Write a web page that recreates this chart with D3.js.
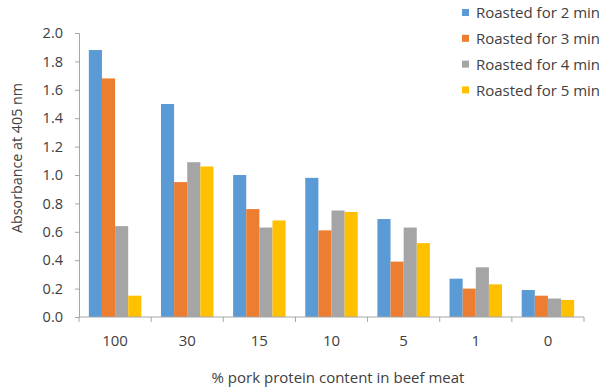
<!DOCTYPE html>
<html>
<head>
<meta charset="utf-8">
<script src="https://cdn.jsdelivr.net/npm/d3@7"></script>
<style>
  html, body { margin: 0; padding: 0; background: #fff; }
  svg { display: block; }
  text { font-family: "Open Sans", "DejaVu Sans", sans-serif; fill: #404040; }
</style>
</head>
<body>
<svg id="chart" width="599" height="389"></svg>
<script>
// Pork protein content categories (% in beef meat)
const categories = ["100", "30", "15", "10", "5", "1", "0"];
// Roasting-time series
const seriesNames = ["Roasted for 2 min", "Roasted for 3 min", "Roasted for 4 min", "Roasted for 5 min"];
const roasted2 = [1.88, 1.50, 1.00, 0.98, 0.69, 0.27, 0.19];
const roasted3 = [1.68, 0.95, 0.76, 0.61, 0.39, 0.20, 0.15];
const roasted4 = [0.64, 1.09, 0.63, 0.75, 0.63, 0.35, 0.13];
const roasted5 = [0.15, 1.06, 0.68, 0.74, 0.52, 0.23, 0.12];
const colors = ["#5B9BD5", "#ED7D31", "#A5A5A5", "#FFC000"];
const yTicks = [0, 0.2, 0.4, 0.6, 0.8, 1.0, 1.2, 1.4, 1.6, 1.8, 2.0];

const seriesValues = [roasted2, roasted3, roasted4, roasted5];
const rows = categories.map((c, i) => ({ cat: c, vals: seriesValues.map(s => s[i]) }));

const svg = d3.select("#chart");
const margin = { left: 79, right: 15, top: 33, bottom: 72 };
const W = 599, H = 389;

const x = d3.scaleBand().domain(categories).range([margin.left, W - margin.right]).paddingInner(0).paddingOuter(0);
const x1 = d3.scaleBand().domain(d3.range(seriesNames.length)).range([0, x.bandwidth()]).paddingInner(0).paddingOuter(0.75);
const y = d3.scaleLinear().domain([0, 2.0]).range([H - margin.bottom, margin.top]);

// Bars
const groups = svg.append("g").selectAll("g").data(rows).join("g")
  .attr("transform", d => `translate(${x(d.cat)},0)`);
groups.selectAll("rect").data(d => d.vals.map((v, k) => ({ v, k }))).join("rect")
  .attr("x", d => x1(d.k))
  .attr("width", x1.bandwidth())
  .attr("y", d => y(d.v))
  .attr("height", d => y(0) - y(d.v))
  .attr("fill", d => colors[d.k]);

// Y axis
const yAxis = svg.append("g").attr("transform", `translate(${margin.left},0)`)
  .call(d3.axisLeft(y).tickValues(yTicks).tickFormat(d3.format(".1f")).tickSize(4).tickPadding(12));
yAxis.select(".domain").attr("stroke", "#a6a6a6");
yAxis.selectAll(".tick line").attr("stroke", "#a6a6a6");
yAxis.selectAll("text").attr("font-size", 14.5).attr("fill", "#404040")
  .style("font-family", "'Open Sans', 'DejaVu Sans', sans-serif");

// X axis with boundary ticks between categories
const xAxisG = svg.append("g").attr("transform", `translate(0,${y(0)})`);
xAxisG.append("line")
  .attr("x1", margin.left).attr("x2", W - margin.right)
  .attr("stroke", "#a6a6a6");
const bounds = categories.map(c => x(c)).concat([x(categories[categories.length - 1]) + x.bandwidth()]);
xAxisG.selectAll("line.tick").data(bounds).join("line").attr("class", "tick")
  .attr("x1", d => d).attr("x2", d => d).attr("y1", 0).attr("y2", 5)
  .attr("stroke", "#a6a6a6");
xAxisG.selectAll("text").data(categories).join("text")
  .attr("x", d => x(d) + x.bandwidth() / 2)
  .attr("y", 29)
  .attr("text-anchor", "middle")
  .attr("font-size", 15)
  .text(d => d);

// Axis titles
svg.append("text")
  .attr("x", 338).attr("y", 383)
  .attr("text-anchor", "middle")
  .attr("font-size", 15)
  .text("% pork protein content in beef meat");
svg.append("text")
  .attr("transform", "translate(22,158) rotate(-90)")
  .attr("text-anchor", "middle")
  .attr("font-size", 14.3)
  .text("Absorbance at 405 nm");

// Legend
const legend = svg.append("g").attr("transform", "translate(462,13)");
const li = legend.selectAll("g").data(seriesNames).join("g")
  .attr("transform", (d, i) => `translate(0,${i * 25.8})`);
li.append("rect").attr("x", 0).attr("y", -4).attr("width", 7).attr("height", 7)
  .attr("fill", (d, i) => colors[i]);
li.append("text").attr("x", 14).attr("y", 0).attr("dy", "0.35em")
  .attr("font-size", 15).text(d => d);
</script>
</body>
</html>
